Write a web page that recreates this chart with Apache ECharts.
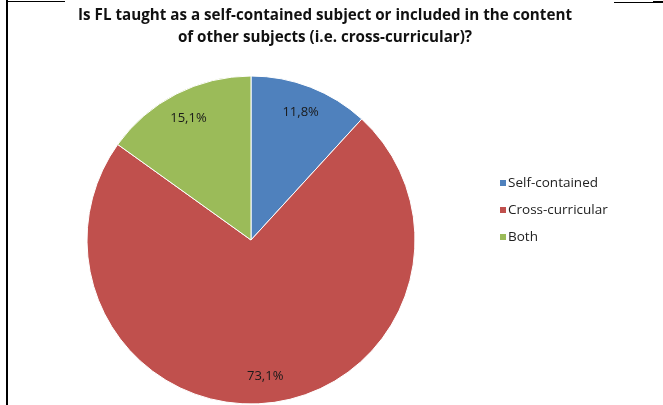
<!DOCTYPE html>
<html>
<head>
<meta charset="utf-8">
<script src="https://cdn.jsdelivr.net/npm/echarts@6/dist/echarts.min.js"></script>
<style>
  html, body { margin: 0; padding: 0; background: #fff; }
  #chart { width: 663px; height: 405px; }
</style>
</head>
<body>
<div id="chart"></div>
<script>
const categories = ['Self-contained', 'Cross-curricular', 'Both'];
const shares = [11.8, 73.1, 15.1];
const colors = ['#4F81BD', '#C0504D', '#9BBB59'];
const titleLines = [
  'Is FL taught as a self-contained subject or included in the content',
  'of other subjects (i.e. cross-curricular)?'
];

const fontFamily = '"Open Sans", "Liberation Sans", sans-serif';
const pieData = categories.map((name, i) => ({
  name: name,
  value: shares[i],
  itemStyle: { color: colors[i] }
}));

const chart = echarts.init(document.getElementById('chart'), null, { renderer: 'canvas' });
chart.setOption({
  animation: false,
  backgroundColor: '#fff',
  title: {
    text: titleLines.join('\n'),
    left: 320,
    textAlign: 'center',
    top: 0,
    textStyle: {
      fontFamily: fontFamily,
      fontWeight: 'bold',
      fontSize: 15.2,
      lineHeight: 22,
      color: '#111'
    }
  },
  legend: {
    orient: 'vertical',
    left: 493,
    top: 171,
    icon: 'rect',
    itemWidth: 8,
    itemHeight: 8,
    itemGap: 13,
    data: categories,
    textStyle: { fontFamily: fontFamily, fontSize: 13.5, color: '#222', padding: [0, 0, 0, -4] }
  },
  graphic: [
    { type: 'line', shape: { x1: 7, y1: 0, x2: 7, y2: 405 }, style: { stroke: '#000', lineWidth: 2 } },
    { type: 'line', shape: { x1: 7, y1: 1.5, x2: 65, y2: 1.5 }, style: { stroke: '#000', lineWidth: 1 } },
    { type: 'line', shape: { x1: 614, y1: 2.5, x2: 663, y2: 2.5 }, style: { stroke: '#000', lineWidth: 1 } },
    { type: 'line', shape: { x1: 653, y1: 2, x2: 663, y2: 2 }, style: { stroke: '#000', lineWidth: 2 } }
  ],
  series: [
    {
      type: 'pie',
      center: [251, 240],
      radius: 164,
      startAngle: 90,
      clockwise: true,
      silent: true,
      label: { show: false },
      labelLine: { show: false },
      itemStyle: { borderColor: '#fff', borderWidth: 1 },
      data: pieData
    },
    {
      // transparent ring that carries the percentage labels at ~0.82 of the radius
      type: 'pie',
      center: [251, 240],
      radius: [104, 164],
      startAngle: 90,
      clockwise: true,
      silent: true,
      itemStyle: { color: 'rgba(0,0,0,0)' },
      label: {
        show: true,
        position: 'inside',
        fontFamily: fontFamily,
        fontSize: 13,
        color: '#1a1a1a',
        formatter: p => String(p.value).replace('.', ',') + '%'
      },
      labelLine: { show: false },
      data: categories.map((name, i) => ({ name: name, value: shares[i] }))
    }
  ]
});
</script>
</body>
</html>
